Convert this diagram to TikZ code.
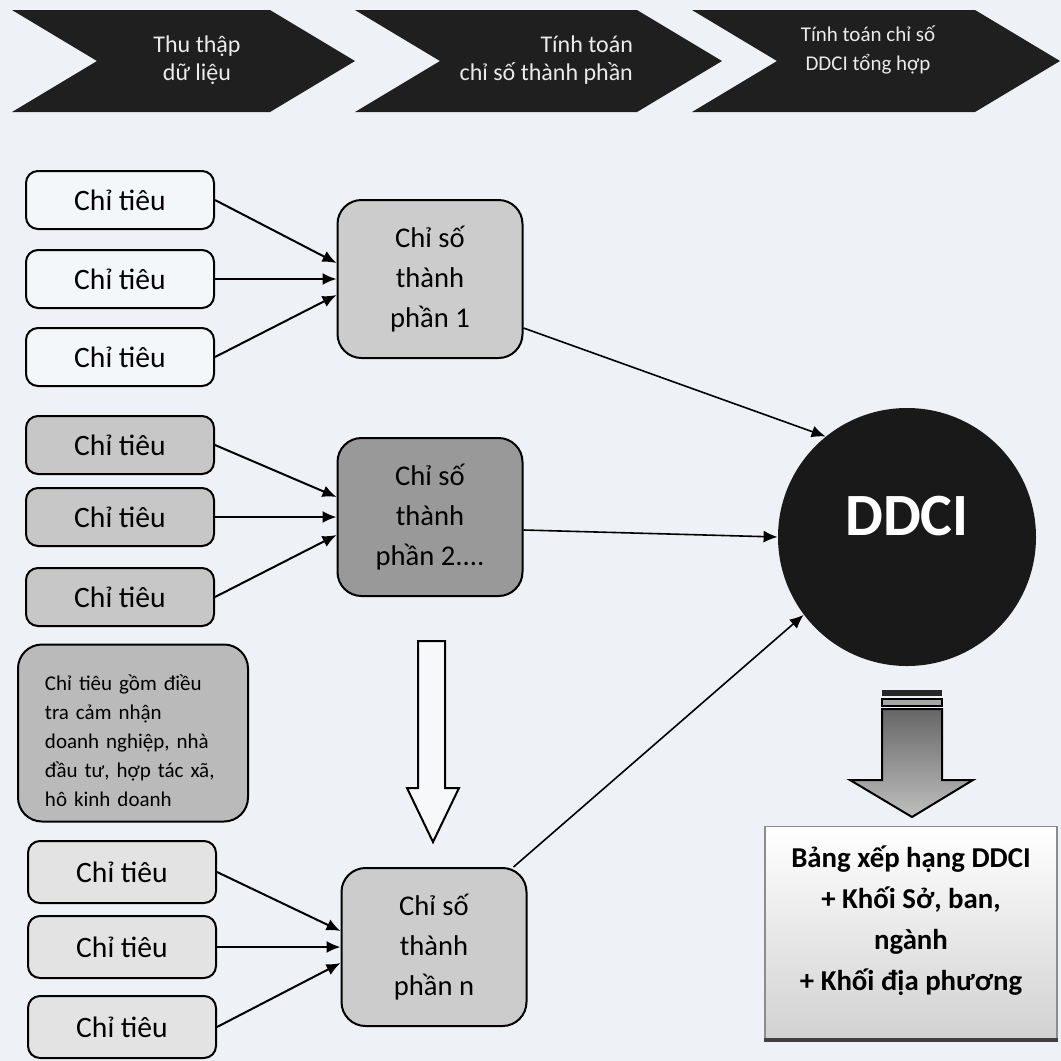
\documentclass[tikz,border=0pt]{standalone}
\usepackage{fontspec}
\setmainfont{Carlito}
\usetikzlibrary{arrows.meta}
\definecolor{paper}{RGB}{238,242,246}

\begin{document}
\begin{tikzpicture}[
  x=0.5pt, y=-0.5pt,
  chev/.style={fill=black!88},
  chevtext/.style={text=black!8, align=center, font=\fontsize{12}{14}\selectfont},
  item/.style={draw, line width=1pt, rounded corners=6pt, minimum width=94pt, minimum height=29pt,
    font=\fontsize{14.8}{17}\selectfont},
  comp/.style={draw, line width=1pt, rounded corners=12pt, minimum width=92.5pt, minimum height=79pt,
    align=center, font=\fontsize{14.3}{20}\selectfont},
  arrow/.style={-{Latex[length=7pt,width=6pt]}, line width=1pt},
  thin arrow/.style={arrow, line width=0.8pt}
]
\fill[paper, use as bounding box] (0,0) rectangle (1061,1061);

% process steps
\foreach \l/\r in {12/270,355/637,692/975}
  \fill[chev] (\l,10) -- (\r,10) -- (\r+85,61) -- (\r,112) -- (\l,112) -- (\l+85,61) -- cycle;
\node[chevtext] (step1) at (197,60) {Thu thập\\dữ liệu};
\node[chevtext, align=right, anchor=east] (step2) at (640,60) {Tính toán\\chỉ số thành phần};
\node[chevtext, font=\fontsize{10.5}{14.5}\selectfont] (step3) at (868,50) {Tính toán chỉ số\\DDCI tổng hợp};

% indicators
\foreach \n/\y in {1/200,2/279,3/357}
  \node[item, fill=white!35!paper] (a\n) at (120,\y) {Chỉ tiêu};
\foreach \n/\y in {1/445,2/517,3/597}
  \node[item, fill=black!22] (b\n) at (120,\y) {Chỉ tiêu};
\foreach \n/\y in {1/872,2/947,3/1027}
  \node[item, fill=black!11, minimum height=31pt] (n\n) at (122,\y) {Chỉ tiêu};

% component indices
\node[comp, fill=black!20] (c1) at (430,279) {Chỉ số\\thành\\phần 1};
\node[comp, fill=black!40] (c2) at (430,517) {Chỉ số\\thành\\phần 2....};
\node[comp, fill=black!20] (cn) at (434,947) {Chỉ số\\thành\\phần n};

\node[draw, line width=1pt, rounded corners=12pt, fill=black!27, minimum width=115pt,
  minimum height=88.5pt] (survey) at (133,733) {};
\node[text width=88pt, align=left, font=\fontsize{10.5}{14.5}\selectfont] (surveytext) at (133,741)
  {Chỉ tiêu gồm điều\\tra cảm nhận\\doanh nghiệp, nhà\\đầu tư, hợp tác xã,\\hô kinh doanh};

\node[circle, fill=black!90, minimum size=129pt, inner sep=0pt] (ddci) at (907,537) {};
\node[text=white, font=\bfseries\fontsize{30}{30}\selectfont] (ddcilabel) at (907,516) {DDCI};

\node[draw=black!45, line width=0.6pt, top color=white, bottom color=black!18, minimum width=146pt,
  minimum height=106.5pt] (rank) at (911,933) {};
\node[align=center, font=\bfseries\fontsize{14.4}{20.5}\selectfont] (ranktext) at (911,921)
  {Bảng xếp hạng DDCI\\+ Khối Sở, ban,\\ngành\\+ Khối địa phương};
\draw[line width=2pt, black!75] (rank.south west) -- (rank.south east);

% arrows
\draw[arrow] (a1.east) -- ([yshift=8pt]c1.west);
\draw[arrow] (a2.east) -- (c1.west);
\draw[arrow] (a3.east) -- ([yshift=-8pt]c1.west);
\draw[arrow] (b1.east) -- ([yshift=10pt]c2.west);
\draw[arrow] (b2.east) -- (c2.west);
\draw[arrow] (b3.east) -- ([yshift=-9pt]c2.west);
\draw[arrow] (n1.east) -- ([yshift=8pt]cn.west);
\draw[arrow] (n2.east) -- (cn.west);
\draw[arrow] (n3.east) -- ([yshift=-8pt]cn.west);
\draw[thin arrow] ([yshift=-24.5pt]c1.east) -- (ddci.129);
\draw[thin arrow] ([yshift=-6.5pt]c2.east) -- (ddci.west);
\draw[thin arrow] ([xshift=-7pt]cn.north east) -- (ddci.217);

% block arrows
\draw[line width=1pt, fill=white!50!paper] (418,641) -- (445,641) -- (445,788) -- (459,788) -- (433,842)
  -- (407,788) -- (418,788) -- cycle;
\fill[black!85] (882,690) rectangle (942,696);
\draw[line width=0.8pt, fill=black!35] (882,699) rectangle (942,706);
\draw[line width=1pt, top color=black!60, bottom color=black!25] (882,709) -- (942,709) -- (942,780)
  -- (973,780) -- (912,817) -- (850,780) -- (882,780) -- cycle;
\end{tikzpicture}
\end{document}
